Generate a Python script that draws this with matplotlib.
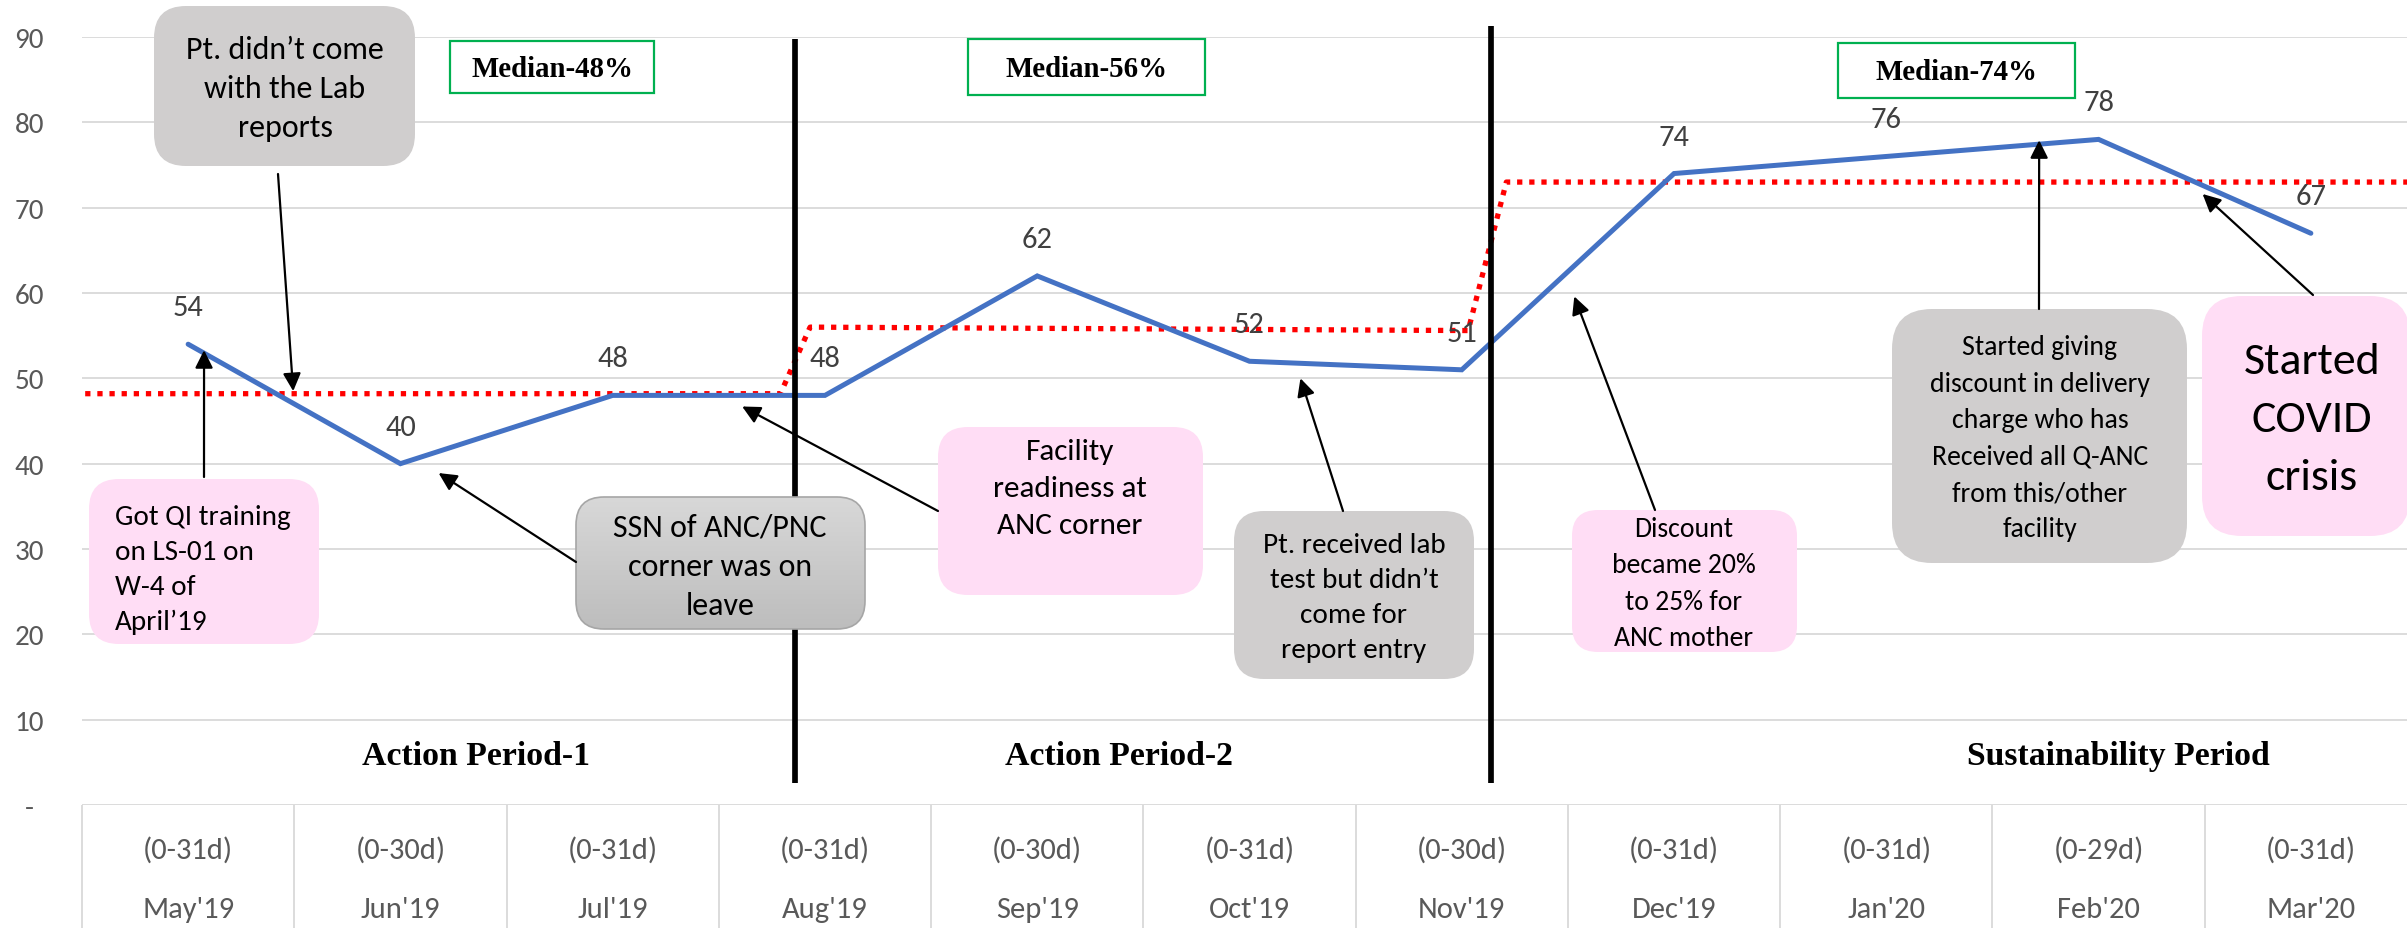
import numpy as np
import matplotlib.pyplot as plt
from matplotlib.patches import FancyBboxPatch
from matplotlib.colors import LinearSegmentedColormap
from matplotlib.transforms import blended_transform_factory

# ---- data -------------------------------------------------------------
months = ["May'19", "Jun'19", "Jul'19", "Aug'19", "Sep'19", "Oct'19",
          "Nov'19", "Dec'19", "Jan'20", "Feb'20", "Mar'20"]
day_ranges = ["(0-31d)", "(0-30d)", "(0-31d)", "(0-31d)", "(0-30d)", "(0-31d)",
              "(0-30d)", "(0-31d)", "(0-31d)", "(0-29d)", "(0-31d)"]
coverage = [54, 40, 48, 48, 62, 52, 51, 74, 76, 78, 67]

# stepped median line (x in category units)
median_x = [-0.485, 2.79, 2.93, 6.03, 6.21, 10.5]
median_y = [48.2, 48.2, 56.0, 55.6, 73.0, 73.0]

# period separators
phase_break_x = [2.86, 6.14]
phase_break_top = [89.8, 91.3]

y_ticks = [0, 10, 20, 30, 40, 50, 60, 70, 80, 90]
y_labels = ["-", "10", "20", "30", "40", "50", "60", "70", "80", "90"]

period_names = ["Action Period-1", "Action Period-2", "Sustainability Period"]
median_texts = ["Median-48%", "Median-56%", "Median-74%"]

# ---- figure -----------------------------------------------------------
W, H = 2407, 929
fig = plt.figure(figsize=(W / 100, H / 100), dpi=100)
fig.patch.set_facecolor("white")

SANS = ["Carlito", "Lato", "DejaVu Sans"]
SERIF = ["Liberation Serif", "DejaVu Serif"]

x_left, x_right = 82, 2417
y_zero, y_top = 806, 38
ax = fig.add_axes([x_left / W, (H - y_zero) / H,
                   (x_right - x_left) / W, (y_zero - y_top) / H])
x = np.arange(len(months))
ax.set_xlim(-0.5, len(months) - 0.5)
ax.set_ylim(0, 90)
for s in ax.spines.values():
    s.set_visible(False)

ax.set_yticks(y_ticks)
ax.set_yticklabels(y_labels, fontsize=21, color="#595959", family=SANS)
for lbl in ax.get_yticklabels():
    lbl.set_horizontalalignment("center")
ax.tick_params(axis="y", length=0, pad=38)
ax.set_xticks([])
ax.set_axisbelow(True)
ax.yaxis.grid(True, color="#D9D9D9", lw=1.3, zorder=0)

# category table under the axis
bt = blended_transform_factory(ax.transData, ax.transAxes)
ax.vlines(np.arange(len(months) + 1) - 0.5, -0.2, 0, transform=bt,
          color="#D9D9D9", lw=1.3, clip_on=False)
for i, (d, m) in enumerate(zip(day_ranges, months)):
    ax.text(i, -0.0573, d, transform=bt, ha="center", va="center",
            fontsize=22, color="#595959", family=SANS)
    ax.text(i, -0.1354, m, transform=bt, ha="center", va="center",
            fontsize=22, color="#595959", family=SANS)

# median line, series, period separators
ax.plot(median_x, median_y, color="#FF0000", lw=3.8, dashes=(1.0, 1.3),
        dash_capstyle="butt", zorder=2, clip_on=False)
ax.plot(x, coverage, color="#4472C4", lw=3.6, solid_capstyle="round",
        solid_joinstyle="miter", zorder=3)
for bx, top in zip(phase_break_x, phase_break_top):
    ax.plot([bx, bx], [2.6, top], color="black", lw=4.1, zorder=4,
            solid_capstyle="butt", clip_on=False)

for xi, v in zip(x, coverage):
    ax.annotate(f"{v:.0f}", (xi, v), xytext=(0, 37), textcoords="offset pixels",
                ha="center", va="center", fontsize=22, color="#404040",
                family=SANS, zorder=5)

# ---- overlay in pixel units for boxes and notes ----------------------
ov = fig.add_axes([0, 0, 1, 1], zorder=5)
ov.set_xlim(0, W)
ov.set_ylim(H, 0)
ov.axis("off")
ov.patch.set_alpha(0)

PINK = "#FFDDF5"
GREY = "#D0CECE"


def rbox(x0, y0, x1, y1, face, edge="none", r=28, lw=0):
    p = FancyBboxPatch((x0, y0), x1 - x0, y1 - y0,
                       boxstyle=f"round,pad=0,rounding_size={r}",
                       facecolor=face, edgecolor=edge, lw=lw, zorder=2)
    ov.add_patch(p)
    return p


def note(px, py, text, size, spacing, ha="center"):
    ov.text(px, py, text, ha=ha, va="center", multialignment=ha,
            fontsize=size, family=SANS, linespacing=spacing, zorder=4)


def arrow(start, tip):
    ov.annotate("", xy=tip, xycoords=ax.transData, xytext=start,
                textcoords="data",
                arrowprops=dict(arrowstyle="-|>,head_length=0.54,head_width=0.27",
                                mutation_scale=20, color="black", lw=1.6,
                                shrinkA=0, shrinkB=0), zorder=3)


# Pt. didn't come with the Lab reports
rbox(154, 7, 415, 167, GREY, r=32)
note(285, 89, "Pt. didn’t come\nwith the Lab\nreports", 23, 1.49)
arrow((278, 175), (0.495, 48.5))

# QI training
rbox(89, 480, 319, 645, PINK, r=30)
note(115, 570, "Got QI training\non LS-01 on\nW-4 of\nApril’19", 21, 1.5,
     ha="left")
arrow((204, 478), (0.075, 53.3))

# SSN on leave (gradient box)
p = rbox(576, 498, 865, 630, "none", edge="#A6A6A6", r=28, lw=1.2)
p.set_zorder(2.5)
cmap = LinearSegmentedColormap.from_list("g", ["#D8D8D8", "#BDBDBD"])
im = ov.imshow(np.linspace(0, 1, 128).reshape(-1, 1), cmap=cmap,
               extent=(576, 865, 630, 498), aspect="auto", origin="upper",
               zorder=2)
im.set_clip_path(p)
ov.set_xlim(0, W)
ov.set_ylim(H, 0)
note(720, 567, "SSN of ANC/PNC\ncorner was on\nleave", 23, 1.49)
arrow((576, 563), (1.18, 38.9))

# Facility readiness
rbox(938, 428, 1203, 596, PINK, r=30)
note(1070, 489, "Facility\nreadiness at\nANC corner", 22.5, 1.54)
arrow((938, 512), (2.61, 46.7))

# Lab test but no report entry
rbox(1234, 512, 1474, 680, GREY, r=30)
note(1354, 598, "Pt. received lab\ntest but didn’t\ncome for\nreport entry",
     21, 1.5)
arrow((1343, 512), (5.24, 50.0))

# Discount
rbox(1572, 511, 1797, 653, PINK, r=26)
note(1684, 584, "Discount\nbecame 20%\nto 25% for\nANC mother", 20, 1.57)
arrow((1655, 511), (6.53, 59.6))

# Delivery charge discount
rbox(1892, 310, 2187, 564, GREY, r=40)
note(2040, 439, "Started giving\ndiscount in delivery\ncharge who has\n"
     "Received all Q-ANC\nfrom this/other\nfacility", 20, 1.57)
arrow((2039, 310), (8.72, 77.9))

# COVID
rbox(2202, 297, 2410, 537, PINK, r=40)
note(2312, 420, "Started\nCOVID\ncrisis", 33, 1.64)
arrow((2313, 296), (9.49, 71.6))

# median boxes
for (x0, y0, x1, y1), t in zip([(450, 42, 654, 94), (968, 40, 1205, 96),
                                (1838, 44, 2075, 99)], median_texts):
    ov.add_patch(plt.Rectangle((x0, y0), x1 - x0, y1 - y0, facecolor="white",
                               edgecolor="#00B050", lw=1.6, zorder=2))
    ov.text((x0 + x1) / 2, (y0 + y1) / 2 + 1, t, ha="center", va="center",
            fontsize=20.8, fontweight="bold", family=SERIF, zorder=4)

# period titles
for (px, py), t in zip([(476, 765), (1119, 765), (2118, 765)], period_names):
    ov.text(px, py, t, ha="center", va="baseline", fontsize=24.3,
            fontweight="bold", family=SERIF, zorder=4)

fig.savefig("out.png", dpi=100, facecolor="white")
